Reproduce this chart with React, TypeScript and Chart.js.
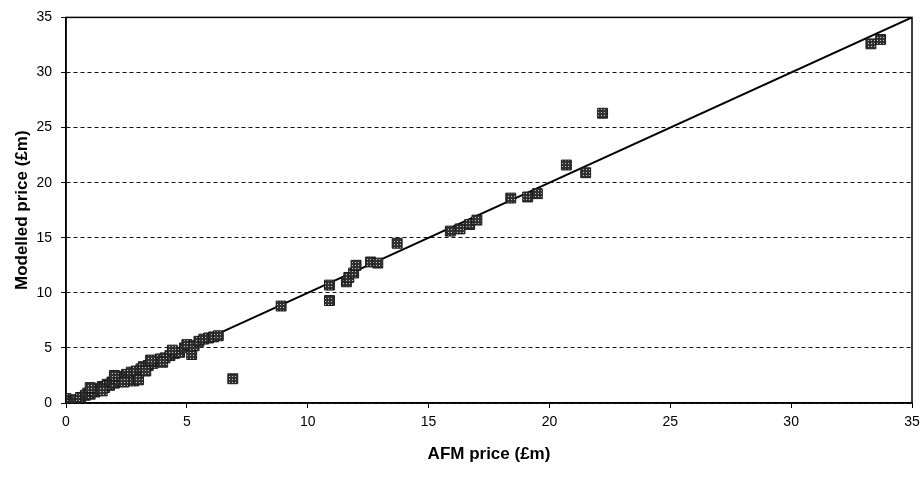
import React, { useEffect, useRef } from 'react';
import { Chart, registerables } from 'chart.js';

Chart.register(...registerables);

// AFM price (x) and modelled price (y), £m
const afmPrice = [
  0.0, 0.0, 0.2, 0.3, 0.4, 0.5, 0.6, 0.8, 0.9, 1.0, 1.1, 1.2, 1.3, 1.4, 1.5, 1.6, 1.7, 1.8, 1.9, 2.0,
  2.1, 2.2, 2.3, 2.5, 2.6, 2.7, 2.8, 2.9, 3.0, 3.1, 3.2, 3.4, 3.6, 3.8, 3.9, 4.1, 4.3, 4.5, 4.7, 4.9,
  5.0, 5.2, 5.3, 5.5, 5.7, 5.9, 6.1, 6.3, 6.9,
  1.0, 1.5, 2.0, 2.4, 3.3, 3.5, 4.0, 4.4,
  8.9, 10.9, 10.9, 11.6, 11.7, 11.9, 12.0, 12.6, 12.9, 13.7,
  15.9, 16.3, 16.7, 17.0, 18.4, 19.1, 19.5, 20.7, 21.5, 22.2, 33.3, 33.7,
];
const modelledPrice = [
  0.0, 0.4, 0.1, 0.0, 0.3, 0.0, 0.5, 0.7, 0.9, 0.8, 1.1, 1.0, 1.3, 1.2, 1.5, 1.4, 1.7, 1.6, 1.9, 1.8,
  2.2, 2.0, 2.4, 2.6, 2.2, 2.8, 2.0, 2.9, 2.1, 3.1, 3.3, 3.4, 3.6, 3.8, 4.0, 4.1, 4.3, 4.5, 4.6, 5.0,
  5.3, 4.4, 5.2, 5.6, 5.8, 5.9, 6.0, 6.1, 2.2,
  1.4, 1.1, 2.5, 1.9, 2.9, 3.9, 3.7, 4.8,
  8.8, 10.7, 9.3, 11.0, 11.4, 11.8, 12.5, 12.8, 12.7, 14.5,
  15.6, 15.8, 16.2, 16.6, 18.6, 18.7, 19.0, 21.6, 20.9, 26.3, 32.6, 33.0,
];
// y = x reference line
const lineX = [0, 35];
const lineY = [0, 35];
const axisMin = 0;
const axisMax = 35;
const tickStep = 5;

const FONT = "'Liberation Sans', Arial, sans-serif";

export default function App() {
  const ref = useRef<HTMLCanvasElement>(null);

  useEffect(() => {
    const canvas = ref.current;
    if (!canvas) return;
    const ctx = canvas.getContext('2d')!;

    const pc = document.createElement('canvas');
    pc.width = 3;
    pc.height = 3;
    const pctx = pc.getContext('2d')!;
    pctx.fillStyle = '#303030';
    pctx.fillRect(0, 0, 3, 3);
    pctx.fillStyle = '#c8c8c8';
    pctx.fillRect(1, 1, 1, 1);
    const pattern = ctx.createPattern(pc, 'repeat') as CanvasPattern;

    const boxPlugin = {
      id: 'plotBox',
      beforeDatasetsDraw(chart: any) {
        const { ctx: c, chartArea } = chart;
        const { left, top, right, bottom } = chartArea;
        c.save();
        c.strokeStyle = '#000';
        c.lineWidth = 1.5;
        c.strokeRect(left, top, right - left, bottom - top);
        c.restore();
      },
    };

    const points = afmPrice.map((x, i) => ({ x, y: modelledPrice[i] }));
    const line = lineX.map((x, i) => ({ x, y: lineY[i] }));

    const chart = new Chart(ctx, {
      type: 'scatter',
      data: {
        datasets: [
          {
            data: points,
            pointStyle: 'rect',
            pointRadius: 7,
            pointHoverRadius: 7,
            backgroundColor: pattern,
            borderColor: '#1a1a1a',
            borderWidth: 1,
          },
          {
            data: line,
            showLine: true,
            pointRadius: 0,
            borderColor: '#000',
            borderWidth: 2,
            fill: false,
          } as any,
        ],
      },
      options: {
        animation: false,
        responsive: false,
        layout: { padding: { left: 0, top: 13, right: 7, bottom: 0 } },
        plugins: { legend: { display: false }, tooltip: { enabled: false } },
        scales: {
          x: {
            type: 'linear',
            min: axisMin,
            max: axisMax,
            ticks: { stepSize: tickStep, color: '#000', font: { family: FONT, size: 14 }, padding: 6 },
            grid: { drawOnChartArea: false, drawTicks: true, tickLength: 5, color: '#000' },
            border: { display: true, color: '#000', width: 1.5 },
            title: {
              display: true,
              text: 'AFM price (£m)',
              color: '#000',
              font: { family: FONT, size: 17, weight: 'bold' },
              padding: { top: 0, bottom: 12 },
            },
            afterFit: (axis: any) => {
              axis.height = 74;
              axis.paddingRight = 0;
              axis.paddingLeft = 0;
            },
          },
          y: {
            type: 'linear',
            min: axisMin,
            max: axisMax,
            ticks: { stepSize: tickStep, color: '#000', font: { family: FONT, size: 14 }, padding: 9 },
            grid: { drawOnChartArea: true, drawTicks: true, tickLength: 5, color: '#111', lineWidth: 1 },
            border: { display: true, color: '#000', width: 1.5, dash: [4, 3] },
            title: {
              display: true,
              text: 'Modelled price (£m)',
              color: '#000',
              font: { family: FONT, size: 17, weight: 'bold' },
              padding: { top: 12, bottom: 0 },
            },
            afterFit: (axis: any) => {
              axis.width = 66;
            },
          },
        },
      } as any,
      plugins: [boxPlugin],
    });

    return () => chart.destroy();
  }, []);

  return (
    <div style={{ position: 'fixed', left: 0, top: 0, width: 920, height: 477, background: '#fff' }}>
      <canvas ref={ref} width={920} height={477} style={{ display: 'block' }} />
    </div>
  );
}
